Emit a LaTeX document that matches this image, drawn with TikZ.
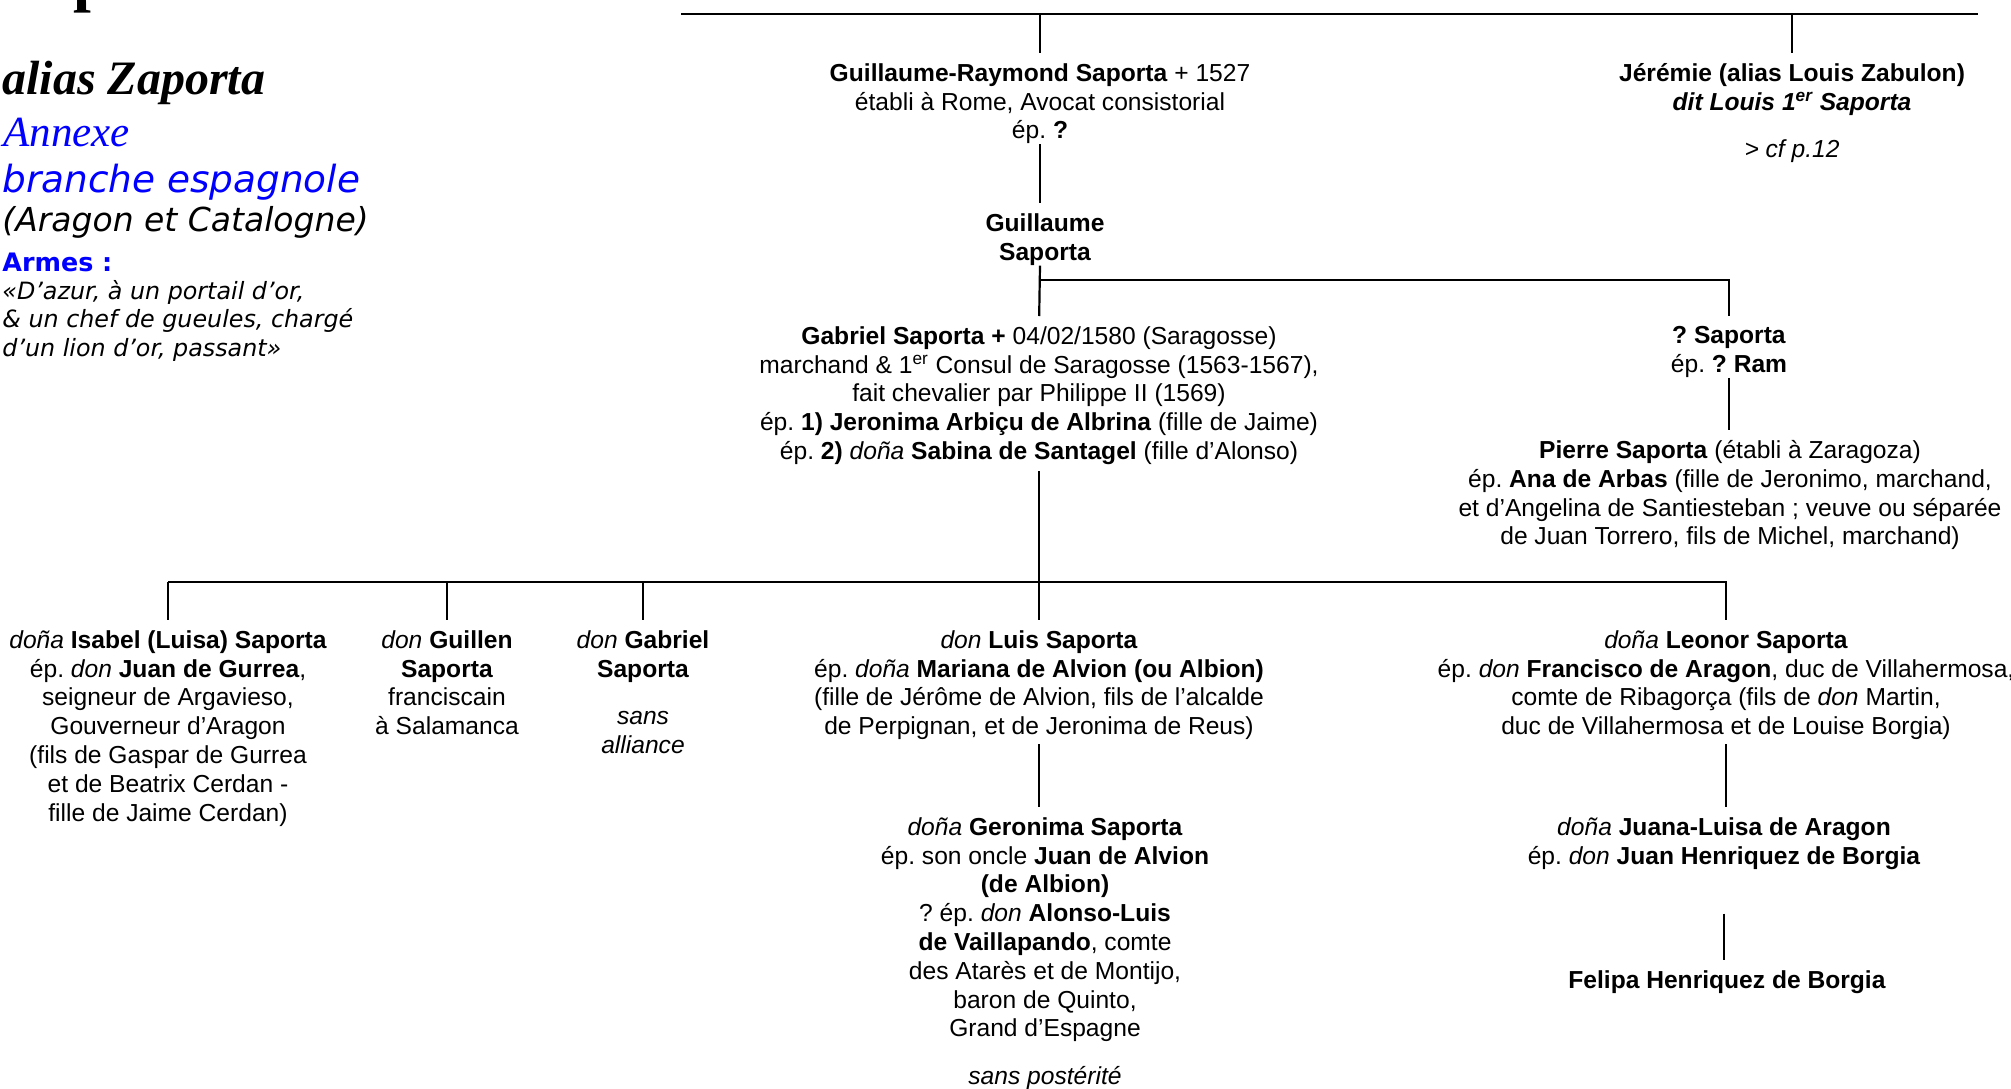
\documentclass[tikz,border=0pt]{standalone}
\usepackage{fontspec}
\setmainfont{Liberation Sans}
\newfontfamily\timesface{Liberation Serif}
\newfontfamily\verdanaface{DejaVu Sans}
\definecolor{armesblue}{RGB}{0,0,255}
\frenchspacing
\newcommand{\treefont}{\fontsize{12.3}{14.4}\selectfont}
\newcommand{\tdon}{\textit{don}}
\newcommand{\tdona}{\textit{doña}}

\begin{document}
\begin{tikzpicture}[x=0.5pt,y=-0.5pt,
  person/.style={align=center,inner sep=0pt,anchor=north,font=\treefont},
  heading/.style={anchor=base west,inner sep=0pt},
  link/.style={line width=1.1pt,shorten >=5pt}]
\useasboundingbox (0,0) rectangle (2011,1088);

\node[heading,font=\timesface\bfseries\fontsize{32}{32}\selectfont] (title) at (73,-1) {p};
\node[heading,font=\timesface\bfseries\itshape\fontsize{24}{24}\selectfont] (alias) at (2,94) {alias Zaporta};
\node[heading,text=armesblue,font=\timesface\itshape\fontsize{21.5}{21.5}\selectfont] (annexe) at (3,146) {Annexe};
\node[heading,text=armesblue,font=\verdanaface\itshape\fontsize{18.7}{18.7}\selectfont] (branche) at (2,192) {branche espagnole};
\node[heading,font=\verdanaface\itshape\fontsize{16.5}{16.5}\selectfont] (region) at (2,231) {(Aragon et Catalogne)};
\node[heading,text=armesblue,font=\verdanaface\bfseries\fontsize{12.7}{12.7}\selectfont] (armes) at (2,271) {Armes :};
\node[anchor=north west,inner sep=0pt,align=left,font=\verdanaface\itshape\fontsize{11.9}{14.2}\selectfont] (blason) at (2,280)
  {«D’azur, à un portail d’or,\\\& un chef de gueules, chargé\\d’un lion d’or, passant»};

\node[person] (grs) at (1040,63)
  {\textbf{Guillaume-Raymond Saporta} + 1527\\établi à Rome, Avocat consistorial\\ép. \textbf{?}};
\node[person] (jer) at (1792,63)
  {\textbf{Jérémie (alias Louis Zabulon)}\\\textbf{\textit{dit Louis 1\textsuperscript{er} Saporta}}\\[9.3pt]\textit{> cf p.12}};
\node[person] (guil) at (1045,213) {\textbf{Guillaume}\\\textbf{Saporta}};
\node[person] (gab) at (1039,326)
  {\textbf{Gabriel Saporta +} 04/02/1580 (Saragosse)\\marchand \& 1\textsuperscript{er} Consul de Saragosse (1563-1567),\\fait chevalier par Philippe II (1569)\\ép. \textbf{1) Jeronima Arbiçu de Albrina} (fille de Jaime)\\ép. \textbf{2)} \tdona{} \textbf{Sabina de Santagel} (fille d’Alonso)};
\node[person] (qsap) at (1729,326) {\textbf{? Saporta}\\ép. \textbf{? Ram}};
\node[person] (pierre) at (1730,440)
  {\textbf{Pierre Saporta} (établi à Zaragoza)\\ép. \textbf{Ana de Arbas} (fille de Jeronimo, marchand,\\et d’Angelina de Santiesteban ; veuve ou séparée\\de Juan Torrero, fils de Michel, marchand)};

\node[person] (isabel) at (168,630)
  {\tdona{} \textbf{Isabel (Luisa) Saporta}\\ép. \tdon{} \textbf{Juan de Gurrea},\\seigneur de Argavieso,\\Gouverneur d’Aragon\\(fils de Gaspar de Gurrea\\et de Beatrix Cerdan -\\fille de Jaime Cerdan)};
\node[person] (guillen) at (447,630) {\tdon{} \textbf{Guillen}\\\textbf{Saporta}\\franciscain\\à Salamanca};
\node[person] (dgab) at (643,630) {\tdon{} \textbf{Gabriel}\\\textbf{Saporta}\\[9.3pt]\textit{sans}\\\textit{alliance}};
\node[person] (luis) at (1039,630)
  {\tdon{} \textbf{Luis Saporta}\\ép. \tdona{} \textbf{Mariana de Alvion (ou Albion)}\\(fille de Jérôme de Alvion, fils de l’alcalde\\de Perpignan, et de Jeronima de Reus)};
\node[person] (leonor) at (1726,630)
  {\tdona{} \textbf{Leonor Saporta}\\ép. \tdon{} \textbf{Francisco de Aragon}, duc de Villahermosa,\\comte de Ribagorça (fils de \tdon{} Martin,\\duc de Villahermosa et de Louise Borgia)};

\node[person] (geronima) at (1045,817)
  {\tdona{} \textbf{Geronima Saporta}\\ép. son oncle \textbf{Juan de Alvion}\\\textbf{(de Albion)}\\? ép. \tdon{} \textbf{Alonso-Luis}\\\textbf{de Vaillapando}, comte\\des Atarès et de Montijo,\\baron de Quinto,\\Grand d’Espagne\\[9.3pt]\textit{sans postérité}};
\node[person] (juana) at (1724,817)
  {\tdona{} \textbf{Juana-Luisa de Aragon}\\ép. \tdon{} \textbf{Juan Henriquez de Borgia}};
\node[person] (felipa) at (1727,970) {\textbf{Felipa Henriquez de Borgia}};

\coordinate (topL) at (681,14);
\coordinate (topR) at (1978,14);
\coordinate (gbus) at (0,280);
\coordinate (kids) at (0,582);

\draw[line width=1.1pt] (topL) -- (topR);
\draw[link] (grs.north |- topL) -- (grs.north);
\draw[link] (jer.north |- topL) -- (jer.north);
\draw[link] (grs.south) -- (grs.south |- guil.north);
\draw[link] (grs.south |- guil.south) -- (gab.north);
\draw[link] (gab.north |- gbus) -| (qsap.north);
\draw[link] (qsap.south) -- (qsap.south |- pierre.north);
\draw[link,shorten <=3pt] (gab.south) -- (luis.north);
\draw[link] (isabel.north |- kids) -| (leonor.north);
\foreach \k in {isabel,guillen,dgab}
  \draw[link] (\k.north |- kids) -- (\k.north);
\draw[link,shorten <=2pt] (luis.south) -- (luis.south |- geronima.north);
\draw[link,shorten <=2pt] (leonor.south) -- (leonor.south |- juana.north);
\draw[link,shorten <=22pt] (juana.south) -- (juana.south |- felipa.north);
\end{tikzpicture}
\end{document}
